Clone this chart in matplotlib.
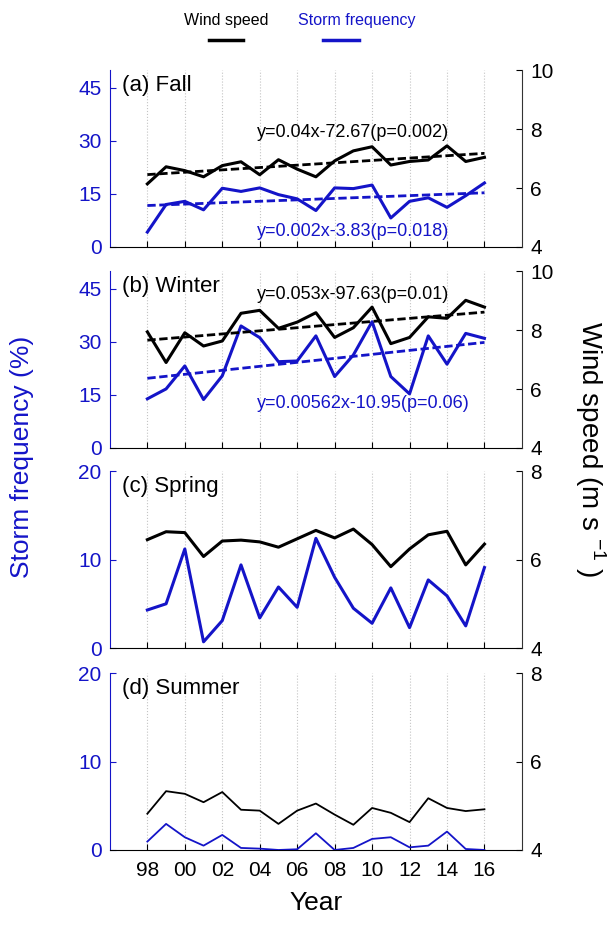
from matplotlib import pyplot as plt
from matplotlib.lines import Line2D
import numpy as np

plt.rcParams['font.family'] = ['Liberation Sans', 'DejaVu Sans']

years = np.arange(1998, 2017)
tick_years = np.arange(1998, 2017, 2)
tick_labels = ['98', '00', '02', '04', '06', '08', '10', '12', '14', '16']

# wind speed (m/s) per season
wind_fall = [6.14, 6.72, 6.59, 6.38, 6.76, 6.89, 6.45, 6.96, 6.64, 6.38,
             6.92, 7.26, 7.40, 6.78, 6.90, 6.95, 7.43, 6.90, 7.04]
wind_winter = [7.94, 6.90, 7.91, 7.46, 7.63, 8.57, 8.67, 8.06, 8.27, 8.59,
               7.75, 8.08, 8.78, 7.54, 7.75, 8.45, 8.40, 9.01, 8.78]
wind_spring = [6.45, 6.63, 6.61, 6.07, 6.42, 6.44, 6.40, 6.28, 6.47, 6.66,
               6.49, 6.69, 6.34, 5.84, 6.24, 6.56, 6.64, 5.88, 6.35]
wind_summer = [4.82, 5.33, 5.27, 5.08, 5.31, 4.91, 4.89, 4.59, 4.89, 5.05,
               4.80, 4.57, 4.95, 4.84, 4.63, 5.17, 4.95, 4.88, 4.92]

# storm frequency (%) per season
storm_fall = [4.2, 12.0, 12.9, 10.5, 16.6, 15.7, 16.7, 14.8, 13.6, 10.3,
              16.7, 16.5, 17.5, 8.2, 12.9, 13.9, 11.2, 14.5, 18.1]
storm_winter = [13.9, 16.7, 23.2, 13.7, 20.4, 34.5, 31.2, 24.4, 24.6, 31.7,
                20.2, 26.3, 35.7, 20.2, 15.3, 31.7, 23.7, 32.4, 31.0]
storm_spring = [4.3, 5.0, 11.2, 0.7, 3.1, 9.4, 3.4, 6.9, 4.6, 12.4,
                8.0, 4.5, 2.8, 6.8, 2.3, 7.7, 5.9, 2.5, 9.1]
storm_summer = [0.95, 2.95, 1.44, 0.49, 1.70, 0.23, 0.15, 0.0, 0.08, 1.89,
                0.0, 0.23, 1.25, 1.44, 0.30, 0.49, 2.08, 0.11, 0.0]

blue = '#1414c8'

fig = plt.figure(figsize=(6.14, 9.26), dpi=100)

panels = [
    # title, storm, wind, storm ylim/ticks, wind ylim/ticks, lw, eqs
    ('(a) Fall', storm_fall, wind_fall, (0, 50), [0, 15, 30, 45], (4, 10), [4, 6, 8, 10], 2.2,
     ('y=0.04x-72.67(p=0.002)', 0.65), ('y=0.002x-3.83(p=0.018)', 0.085)),
    ('(b) Winter', storm_winter, wind_winter, (0, 50), [0, 15, 30, 45], (4, 10), [4, 6, 8, 10], 2.2,
     ('y=0.053x-97.63(p=0.01)', 0.87), ('y=0.00562x-10.95(p=0.06)', 0.25)),
    ('(c) Spring', storm_spring, wind_spring, (0, 20), [0, 10, 20], (4, 8), [4, 6, 8], 2.2,
     None, None),
    ('(d) Summer', storm_summer, wind_summer, (0, 20), [0, 10, 20], (4, 8), [4, 6, 8], 1.3,
     None, None),
]
bottoms = [0.7333, 0.5162, 0.3002, 0.0821]

for i, (title, storm, wind, sl, st, wl, wt, lw, eq_w, eq_s) in enumerate(panels):
    ax = fig.add_axes([0.179, bottoms[i], 0.671, 0.191])
    ax2 = ax.twinx()
    ax.set_xlim(1996, 2018)
    ax.set_ylim(*sl)
    ax.set_yticks(st)
    ax2.set_ylim(*wl)
    ax2.set_yticks(wt)
    for yr in tick_years:
        ax.axvline(yr, color='#c4c4c4', lw=0.8, ls=':', zorder=0)
    ax.plot(years, storm, color=blue, lw=lw, zorder=3)
    ax2.plot(years, wind, color='black', lw=lw, zorder=3)
    if eq_w is not None:
        pw = np.polyfit(years, wind, 1)
        ps = np.polyfit(years, storm, 1)
        ax2.plot(years, np.polyval(pw, years), color='black', lw=2, ls=(0, (3, 1.3)))
        ax.plot(years, np.polyval(ps, years), color=blue, lw=2, ls=(0, (3, 1.3)))
        ax.text(0.357, eq_w[1], eq_w[0], transform=ax.transAxes, fontsize=13,
                color='black', ha='left', va='center', zorder=5)
        ax.text(0.357, eq_s[1], eq_s[0], transform=ax.transAxes, fontsize=13,
                color=blue, ha='left', va='center', zorder=5)
    ax.text(0.03, 0.915, title, transform=ax.transAxes, fontsize=16,
            ha='left', va='center')
    ax.set_xticks(tick_years)
    if i == 3:
        ax.set_xticklabels(tick_labels)
        ax.set_xlabel('Year', fontsize=19, labelpad=8)
    else:
        ax.set_xticklabels([])
    ax.tick_params(axis='x', direction='in', length=4, labelsize=15, pad=8)
    ax.tick_params(axis='y', direction='in', length=4, labelsize=15, colors=blue, pad=6)
    ax2.tick_params(axis='y', direction='in', length=4, labelsize=15, pad=6)
    ax.spines['top'].set_visible(False)
    ax.spines['right'].set_visible(False)
    ax.spines['left'].set_color(blue)
    ax2.spines['top'].set_visible(False)
    ax2.spines['left'].set_visible(False)
    ax2.spines['bottom'].set_visible(False)
    ax2.spines['right'].set_color('#333333')

fig.text(22 / 614, 1 - 457 / 926, 'Storm frequency (%)', rotation=90, color=blue,
         fontsize=19, ha='center', va='center')
fig.text(590 / 614, 1 - 449 / 926, 'Wind speed (m s $^{\\mathregular{-1}}$ )', rotation=-90,
         fontsize=20, ha='center', va='center')

# legend on top
fig.text(226 / 614, 1 - 20 / 926, 'Wind speed', fontsize=11.5, ha='center', va='center')
fig.text(357 / 614, 1 - 20 / 926, 'Storm frequency', fontsize=11.5, ha='center', va='center',
         color=blue)
fig.add_artist(Line2D([209 / 614, 243 / 614], [1 - 40 / 926, 1 - 40 / 926],
                      color='black', lw=2.5))
fig.add_artist(Line2D([323 / 614, 359 / 614], [1 - 40 / 926, 1 - 40 / 926],
                      color=blue, lw=2.5))

plt.savefig('out.png', dpi=100)
